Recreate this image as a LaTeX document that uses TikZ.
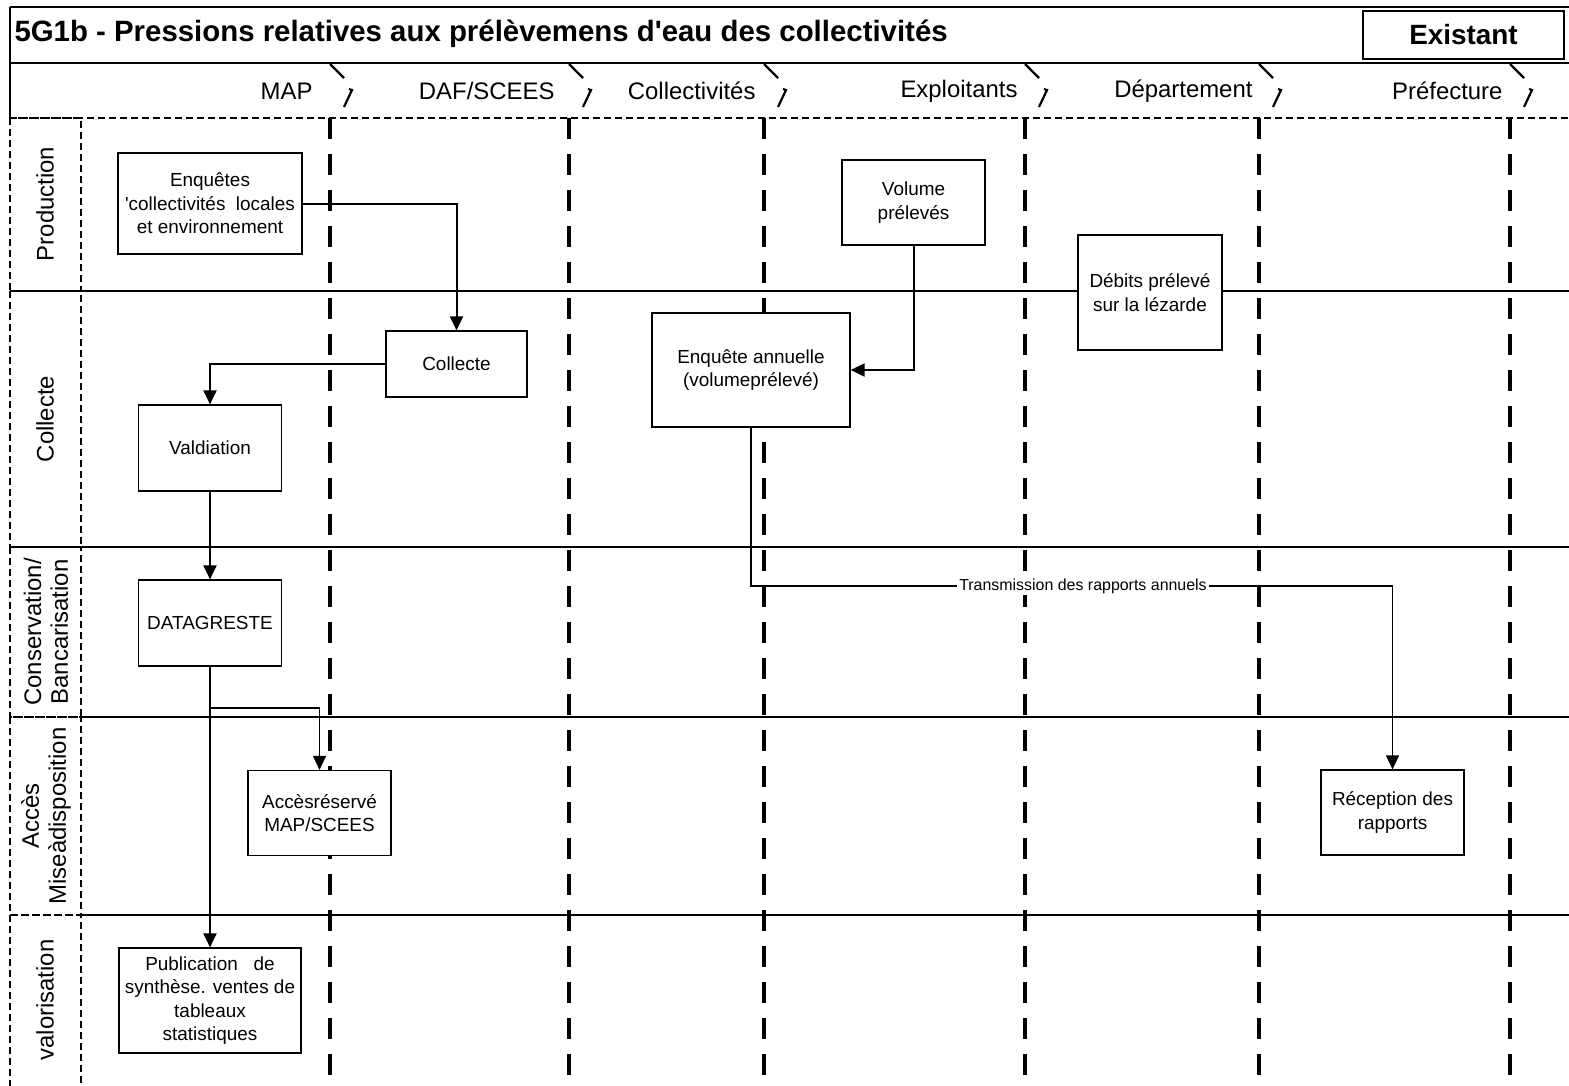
\documentclass[tikz,border=0pt]{standalone}
\usepackage{fontspec}
\setmainfont{Liberation Sans}
\usetikzlibrary{arrows.meta}

\tikzset{
  frame/.style={line width=1.6bp},
  laneline/.style={line width=2bp},
  thindash/.style={line width=1.3bp, dash pattern=on 7bp off 4bp},
  swim/.style={line width=4bp, dash pattern=on 21bp off 15bp},
  box/.style={draw, line width=1.2bp, fill=white, align=center, inner sep=0pt,
    font=\fontsize{19}{23.5}\selectfont},
  lanelabel/.style={rotate=90, align=center, font=\fontsize{24}{27}\selectfont},
  collabel/.style={anchor=east, font=\fontsize{24}{28}\selectfont},
  flow/.style={line width=2bp, -{Triangle[width=13bp,length=14bp]}},
  thinflow/.style={line width=1.2bp, -{Triangle[width=13bp,length=14bp]}},
}

\begin{document}
\begin{tikzpicture}[x=1bp,y=-1bp]
    \useasboundingbox (0,0) rectangle (1569,1085);

    % Swimlanes
    \foreach \x in {330,569,764,1025,1259,1510}
    {
        \draw[swim] (\x,118) -- (\x,1090);
    }
    \foreach \y in {291,547,717,915}
    {
        \draw[laneline] (81,\y) -- (1575,\y);
    }
    \draw[thindash] (10,118) -- (1575,118);
    \foreach \a/\b in {118/291,291/547,547/717,717/915,915/1090}
    {
        \draw[thindash] (10,\a) rectangle (81,\b);
    }

    % Title and header
    \draw[frame] (10,7) -- (1575,7);
    \draw[frame] (10,63) -- (1575,63);
    \draw[frame] (10,7) -- (10,118);
    \node[anchor=west, font=\bfseries\fontsize{29.5}{31}\selectfont] (title) at (11,34)
        {5G1b - Pressions relatives aux prélèvemens d\textquotesingle eau des collectivités};
    \node[draw, line width=1.2bp, minimum width=201bp, minimum height=48bp,
        font=\bfseries\fontsize{28}{30}\selectfont] (exist) at (1463.5,35) {Existant};

    \node[collabel] (hmap) at (316,91) {MAP};
    \node[collabel] (hdaf) at (558,91) {DAF/SCEES};
    \node[collabel] (hcol) at (759,91) {Collectivités};
    \node[collabel] (hexp) at (1021,91) {Exploitants};
    \node[collabel] (hdep) at (1256,91) {Département};
    \node[collabel] (hpre) at (1506,91) {Préfecture};
    \foreach \b in {330,569,764,1025,1259,1510}
    {
        \draw[line width=2.2bp] (\b,64) -- (\b+14,78);
        \draw[line width=2.2bp] (\b+19,89) -- (\b+22,90) -- (\b+14,107);
    }

    % Lane labels
    \node[lanelabel] (lprod) at (45,204) {Production};
    \node[lanelabel] (lcoll) at (45,419) {Collecte};
    \node[lanelabel] (lcons) at (46,632) {Conservation/\\Bancarisation};
    \node[lanelabel] (lacc) at (46,816) {Accès\\Miseàdisposition};
    \node[lanelabel] (lval) at (45,1000) {valorisation};

    % Steps
    \node[box, minimum width=184bp, minimum height=101bp] (enq) at (210,203.5)
        {Enquêtes\\\textquotesingle collectivités~ locales\\et environnement};
    \node[box, minimum width=141bp, minimum height=66bp] (col) at (456.5,364) {Collecte};
    \node[box, minimum width=143bp, minimum height=86bp] (val) at (210,448) {Valdiation};
    \node[box, minimum width=143bp, minimum height=86bp] (data) at (210,623) {DATAGRESTE};
    \node[box, minimum width=143bp, minimum height=85bp] (acc) at (319.5,813)
        {Accèsréservé\\MAP/SCEES};
    \node[box, minimum width=182bp, minimum height=105bp] (pub) at (210,1000.5)
        {Publication~~~de\\synthèse. ventes de\\tableaux\\statistiques};
    \node[box, minimum width=143bp, minimum height=85bp] (vol) at (913.5,202.5)
        {Volume\\prélevés};
    \node[box, minimum width=198bp, minimum height=114bp] (ann) at (751,370)
        {Enquête annuelle\\(volumeprélevé)};
    \node[box, minimum width=144bp, minimum height=115bp] (deb) at (1150,292.5)
        {Débits prélevé\\sur la lézarde};
    \node[box, minimum width=143bp, minimum height=85bp] (rec) at (1392.5,812.5)
        {Réception des\\rapports};

    % Flows
    \draw[flow] (enq.east) -| (col.north);
    \draw[flow] (col.west) -| (val.north);
    \draw[flow] (val.south) -- (data.north);
    \draw[flow] (data.south) -- (pub.north);
    \coordinate (split) at (210,708);
    \draw[thinflow] (split) -| (acc.north);
    \draw[flow] (vol.south) |- (ann.east);
    \coordinate (trans) at (1083,586);
    \draw[thinflow] (ann.south) |- (trans) -| (rec.north);
    \node[fill=white, inner sep=2bp, font=\fontsize{16}{18}\selectfont] (tlabel) at (trans)
        {Transmission des rapports annuels};

\end{tikzpicture}
\end{document}
